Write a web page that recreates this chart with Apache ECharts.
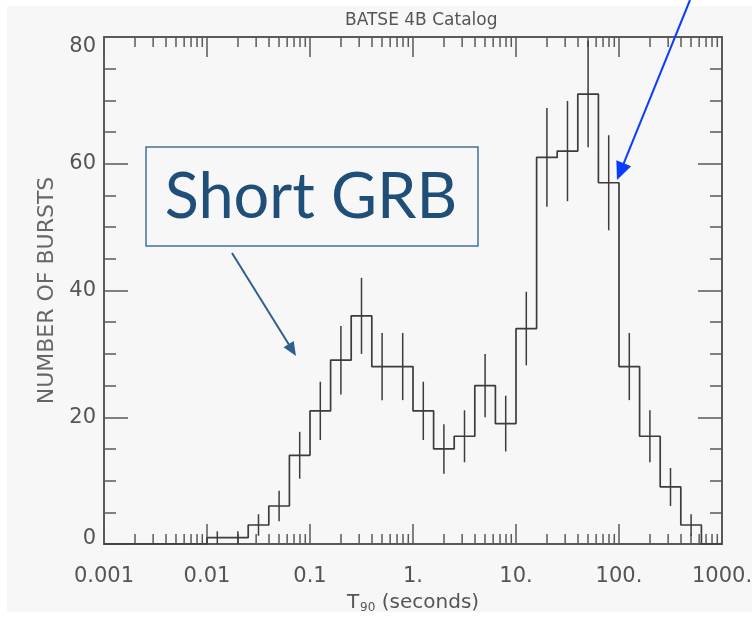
<!DOCTYPE html>
<html>
<head>
<meta charset="utf-8">
<script src="https://cdn.jsdelivr.net/npm/echarts@6/dist/echarts.min.js"></script>
<style>
html, body { margin: 0; padding: 0; background: #fff; }
#main { width: 752px; height: 619px; }
</style>
</head>
<body>
<div id="main"></div>
<script>
// histogram bins: lower edges in log10(T90 / s), last entry is the upper edge of the last bin
const binEdgesLog = [-3.0, -2.8, -2.6, -2.4, -2.2, -2.0, -1.8, -1.6, -1.4, -1.2,
                     -1.0, -0.8, -0.6, -0.4, -0.2, 0.0, 0.2, 0.4, 0.6, 0.8,
                      1.0, 1.2, 1.4, 1.6, 1.8, 2.0, 2.2, 2.4, 2.6, 2.8, 3.0];
const binCounts   = [0, 0, 0, 0, 0, 1, 1, 3, 6, 14,
                     21, 29, 36, 28, 28, 21, 15, 17, 25, 19,
                     34, 61, 62, 71, 57, 28, 17, 9, 3, 0];
const binErrors   = [0, 0, 0, 0, 0, 1.0, 1.0, 1.7, 2.4, 3.7,
                     4.6, 5.4, 6.0, 5.3, 5.3, 4.6, 3.9, 4.1, 5.0, 4.4,
                     5.8, 7.8, 7.9, 8.4, 7.5, 5.3, 4.1, 3.0, 1.7, 0];

const xTickLabels = ['0.001', '0.01', '0.1', '1.', '10.', '100.', '1000.'];
const xDecades    = [0.001, 0.01, 0.1, 1, 10, 100];
const xMinorMult  = [2, 3, 4, 5, 6, 7, 8, 9];
const yMin = 0, yMax = 80;

const FONT = 'DejaVu Sans';
const AXIS_COLOR = '#5a5a5a';
const LINE_COLOR = '#3c3c3c';
const LABEL_COLOR = '#555';

// step line points (left edge of each bin, then closing edge)
const stepData = [];
for (let i = 0; i < binCounts.length; i++) {
    stepData.push([Math.pow(10, binEdgesLog[i]), binCounts[i]]);
}
stepData.push([Math.pow(10, binEdgesLog[binEdgesLog.length - 1]), 0]);

// error bars at bin centres
const errData = [];
for (let i = 0; i < binCounts.length; i++) {
    if (binCounts[i] > 0) {
        const c = (binEdgesLog[i] + binEdgesLog[i + 1]) / 2;
        errData.push([Math.pow(10, c), binCounts[i], binErrors[i]]);
    }
}

const minorTicks = [];
xDecades.forEach(d => xMinorMult.forEach(m => minorTicks.push([d * m, 0])));

function arrow(x1, y1, x2, y2, color, width, headLen, headW) {
    const dx = x2 - x1, dy = y2 - y1;
    const len = Math.sqrt(dx * dx + dy * dy);
    const ux = dx / len, uy = dy / len;
    const bx = x2 - ux * headLen, by = y2 - uy * headLen;
    const nx = -uy, ny = ux;
    return [
        { type: 'line', z: 100, shape: { x1: x1, y1: y1, x2: bx + ux * 2, y2: by + uy * 2 },
          style: { stroke: color, lineWidth: width } },
        { type: 'polygon', z: 100,
          shape: { points: [[x2, y2], [bx + nx * headW, by + ny * headW], [bx - nx * headW, by - ny * headW]] },
          style: { fill: color } }
    ];
}

function xLabel(v) {
    const k = Math.round(Math.log10(v)) + 3;
    return xTickLabels[k] !== undefined ? xTickLabels[k] : '';
}

// end labels sit inside the frame, like the IDL plot
function yLabel(v) {
    if (v === yMin) return '{lo|' + v + '}';
    if (v === yMax) return '{hi|' + v + '}';
    return '{m|' + v + '}';
}

const baseX = {
    type: 'log', logBase: 10, min: 0.001, max: 1000,
    axisLine: { show: true, onZero: false, lineStyle: { color: AXIS_COLOR, width: 2 } },
    axisTick: { show: true, inside: true, length: 20, lineStyle: { color: AXIS_COLOR, width: 1.5 } },
    splitLine: { show: false }
};
const baseY = {
    type: 'value', min: yMin, max: yMax, interval: 20,
    axisLine: { show: true, onZero: false, lineStyle: { color: AXIS_COLOR, width: 2 } },
    axisTick: { show: true, inside: true, length: 24, lineStyle: { color: AXIS_COLOR, width: 1.5 } },
    minorTick: { show: true, splitNumber: 4, length: 12, lineStyle: { color: AXIS_COLOR, width: 1.5 } },
    splitLine: { show: false }
};

const yRich = {
    m:  { fontSize: 21, color: LABEL_COLOR, fontFamily: FONT },
    lo: { fontSize: 21, color: LABEL_COLOR, fontFamily: FONT, padding: [0, 0, 10, 0] },
    hi: { fontSize: 21, color: LABEL_COLOR, fontFamily: FONT, padding: [19, 0, 0, 0] }
};

const chart = echarts.init(document.getElementById('main'), null, { renderer: 'canvas' });

const option = {
    backgroundColor: '#ffffff',
    animation: false,
    title: {
        text: 'BATSE 4B Catalog',
        left: 340, top: 7,
        textStyle: { fontSize: 17, fontWeight: 'normal', color: LABEL_COLOR, fontFamily: FONT }
    },
    grid: { left: 104, right: 30, top: 37, bottom: 75, containLabel: false, outerBoundsMode: 'none' },
    xAxis: [
        Object.assign({}, baseX, {
            position: 'bottom',
            axisLabel: { formatter: xLabel, fontSize: 21, color: LABEL_COLOR, margin: 22, fontFamily: FONT },
            name: '{t|T}{s|90}{t| (seconds)}',
            nameLocation: 'middle', nameGap: 47,
            nameTextStyle: {
                color: LABEL_COLOR, fontFamily: FONT,
                rich: {
                    t: { fontSize: 20, color: LABEL_COLOR, fontFamily: FONT },
                    s: { fontSize: 12, color: LABEL_COLOR, fontFamily: FONT, padding: [11, 0, 0, 1] }
                }
            }
        }),
        Object.assign({}, baseX, { position: 'top', axisLabel: { show: false } })
    ],
    yAxis: [
        Object.assign({}, baseY, {
            position: 'left',
            axisLabel: { formatter: yLabel, margin: 8, rich: yRich },
            name: 'NUMBER OF BURSTS',
            nameLocation: 'middle', nameGap: 42, nameRotate: 90,
            nameTextStyle: { fontSize: 22, color: '#666', fontFamily: FONT }
        }),
        Object.assign({}, baseY, { position: 'right', axisLabel: { show: false } })
    ],
    series: [
        {
            type: 'line', name: 'T90', data: stepData, step: 'end',
            showSymbol: false, symbol: 'none', silent: true, clip: true,
            lineStyle: { color: LINE_COLOR, width: 1.7 }, z: 5
        },
        {
            type: 'custom', name: 'errors', data: errData, silent: true, z: 6,
            encode: { x: 0, y: 1 },
            renderItem: function (params, api) {
                const x = api.value(0), y = api.value(1), e = api.value(2);
                const lo = api.coord([x, y - e]);
                const hi = api.coord([x, y + e]);
                return {
                    type: 'line',
                    shape: { x1: lo[0], y1: lo[1], x2: hi[0], y2: hi[1] },
                    style: { stroke: LINE_COLOR, lineWidth: 1.5 }
                };
            }
        },
        {
            type: 'custom', name: 'minor', data: minorTicks, silent: true, z: 4,
            encode: { x: 0, y: 1 },
            renderItem: function (params, api) {
                const v = api.value(0);
                const b = api.coord([v, yMin]);
                const t = api.coord([v, yMax]);
                const st = { stroke: AXIS_COLOR, lineWidth: 1.5 };
                return {
                    type: 'group',
                    children: [
                        { type: 'line', shape: { x1: b[0], y1: b[1], x2: b[0], y2: b[1] - 10 }, style: st },
                        { type: 'line', shape: { x1: t[0], y1: t[1], x2: t[0], y2: t[1] + 10 }, style: st }
                    ]
                };
            }
        }
    ],
    graphic: [
        { type: 'rect', z: -10, silent: true,
          shape: { x: 7, y: 6, width: 745, height: 606 },
          style: { fill: '#f7f7f7' } },
        { type: 'rect', z: 100, silent: true,
          shape: { x: 146, y: 147, width: 332, height: 99 },
          style: { fill: null, stroke: '#41719c', lineWidth: 1.5 } },
        { type: 'text', z: 100, silent: true, x: 311, y: 198,
          style: { text: 'Short GRB', fill: '#1f4e79', fontSize: 63, fontFamily: 'Lato',
                   align: 'center', verticalAlign: 'middle' } }
    ].concat(arrow(232, 253, 296, 356, '#2f5f8f', 2, 14, 6))
     .concat(arrow(690, 0, 617, 180, '#0a3cff', 2, 18, 8))
};

chart.setOption(option);
</script>
</body>
</html>
